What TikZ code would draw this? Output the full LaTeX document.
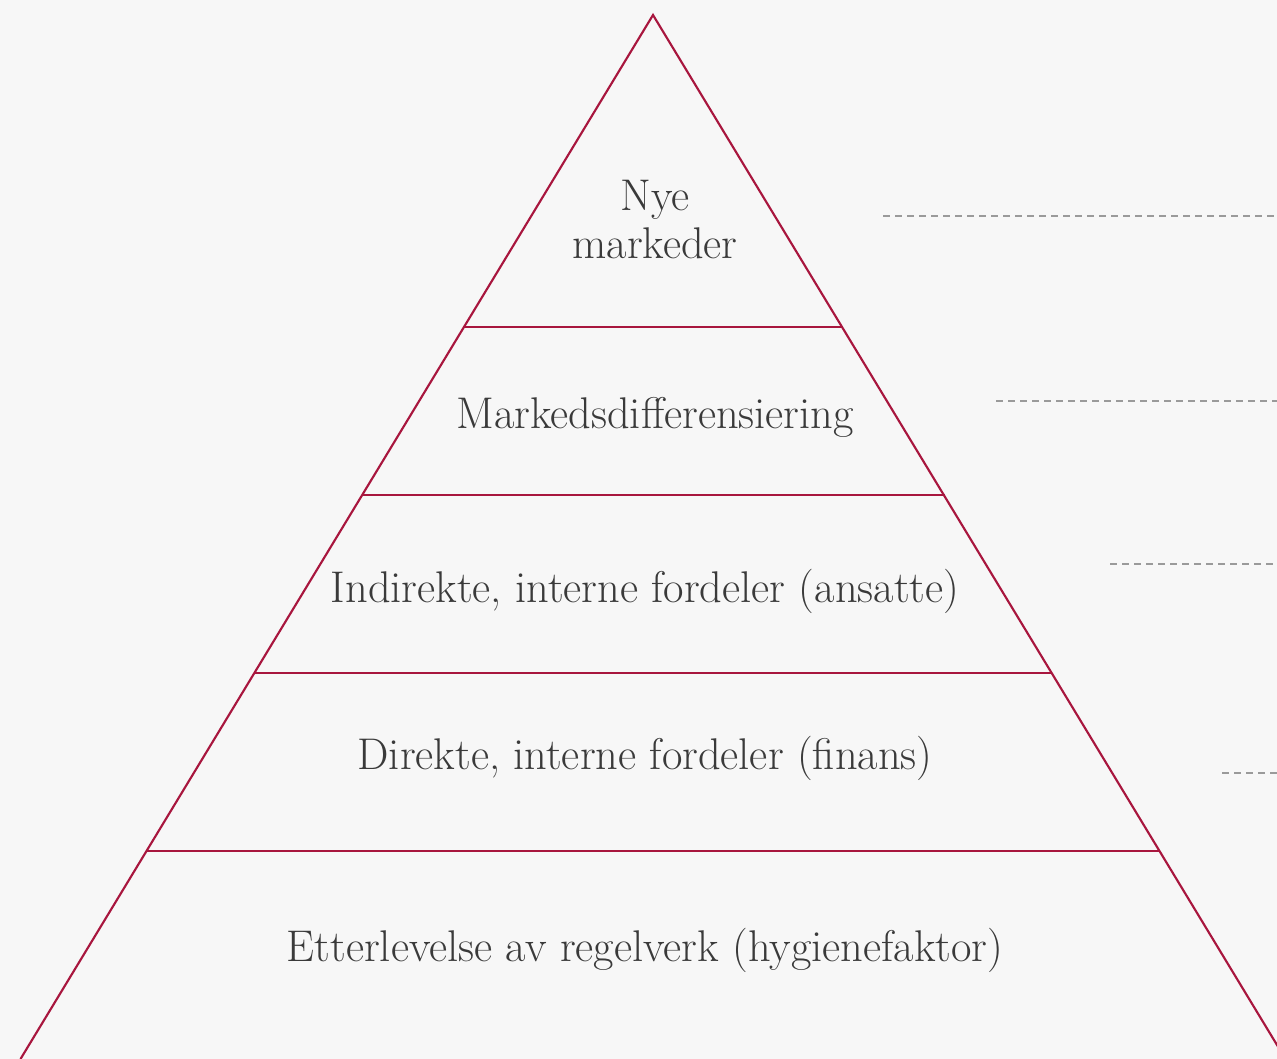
\documentclass[tikz,border=0pt]{standalone}
\usepackage{fontspec}
\definecolor{bg}{HTML}{F7F7F7}
\definecolor{crim}{HTML}{A8163E}
\definecolor{txt}{HTML}{3A3A3A}
\definecolor{dash}{HTML}{9A9A9A}
\begin{document}
\begin{tikzpicture}[x=0.75pt,y=-0.75pt,
  edge/.style={draw=crim,line width=1.6pt},
  lbl/.style={text=txt,font=\fontsize{33.3}{38}\selectfont,anchor=base,inner sep=0pt},
  guide/.style={draw=dash,line width=0.9pt,dash pattern=on 5.5pt off 3.5pt}]
\fill[bg] (0,0) rectangle (1277,1059);
\useasboundingbox (0,0) rectangle (1277,1059);
% apex and base
\coordinate (apex) at (653,15);
\coordinate (bl) at (20.5,1059);
\coordinate (br) at (1285.5,1059);
\begin{scope}
\clip (0,0) rectangle (1277,1059);
\draw[edge,line join=miter] (bl) -- (apex) -- (br);
\end{scope}
% tier lines
\coordinate (l1) at (464,327); \coordinate (r1) at (843,327);
\coordinate (l2) at (362,495); \coordinate (r2) at (945,495);
\coordinate (l3) at (254,673); \coordinate (r3) at (1052,673);
\coordinate (l4) at (147,851); \coordinate (r4) at (1159,851);
\draw[edge] (l1) -- (r1);
\draw[edge] (l2) -- (r2);
\draw[edge] (l3) -- (r3);
\draw[edge] (l4) -- (r4);
% labels
\node[lbl] (t1a) at (655,211) {Nye};
\node[lbl] (t1b) at (655,258) {markeder};
\node[lbl] (t2) at (655,428) {Markedsdifferensiering};
\node[lbl] (t3) at (645,602) {Indirekte, interne fordeler (ansatte)};
\node[lbl] (t4) at (645,769) {Direkte, interne fordeler (finans)};
\node[lbl] (t5) at (645,961) {Etterlevelse av regelverk (hygienefaktor)};
% dashed guides
\coordinate (g1a) at (883,216); \coordinate (g1b) at (1277,216);
\coordinate (g2a) at (996,401); \coordinate (g2b) at (1277,401);
\coordinate (g3a) at (1110,564); \coordinate (g3b) at (1277,564);
\coordinate (g4a) at (1222,773); \coordinate (g4b) at (1277,773);
\draw[guide] (g1a) -- (g1b);
\draw[guide] (g2a) -- (g2b);
\draw[guide] (g3a) -- (g3b);
\draw[guide] (g4a) -- (g4b);
\end{tikzpicture}
\end{document}
